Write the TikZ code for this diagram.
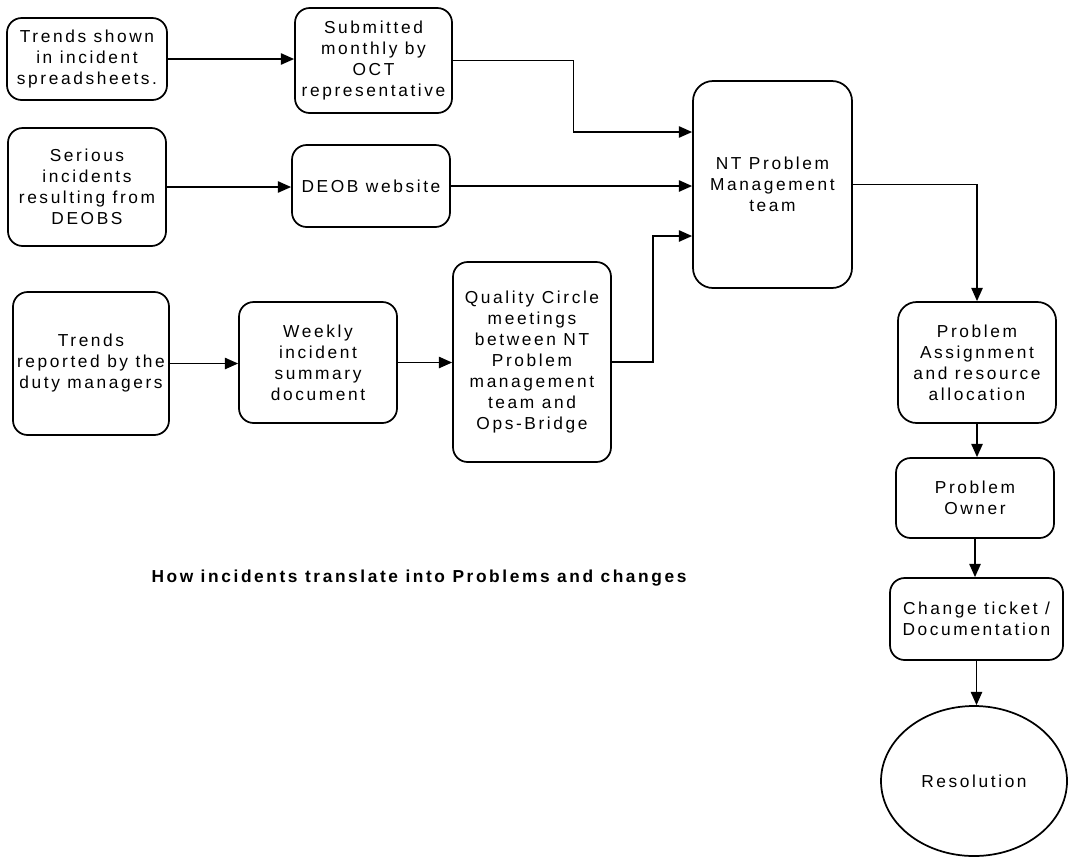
\documentclass[tikz,border=0pt]{standalone}
\usepackage{fontspec}
\setmainfont{Liberation Sans}[LetterSpace=15]
\usetikzlibrary{arrows.meta,shapes.geometric}
\tikzset{
  box/.style={draw, line width=1.3pt, rounded corners=11pt, align=center, inner sep=0pt,
    font=\fontsize{13pt}{15.75pt}\selectfont},
  oval/.style={draw, line width=1.3pt, ellipse, align=center, inner sep=0pt,
    font=\fontsize{13pt}{15.75pt}\selectfont},
  arr/.style={line width=1.3pt, -{Triangle[length=10pt,width=8.5pt]}},
  caption/.style={font=\fontsize{13pt}{15.75pt}\selectfont\bfseries, inner sep=0pt}
}
\begin{document}
\begin{tikzpicture}[x=0.75pt,y=-0.75pt]
\useasboundingbox (0,0) rectangle (1069,858);
% left column
\node[box, minimum width=120pt, minimum height=61.5pt] (b1) at (87,59)
  {Trends shown\\in incident\\spreadsheets.};
\node[box, minimum width=117.75pt, minimum height=78.75pt] (b2) at (373.5,60.5)
  {Submitted\\monthly by\\OCT\\representative};
\node[box, minimum width=118.5pt, minimum height=88.5pt] (b3) at (87,187)
  {Serious\\incidents\\resulting from\\DEOBS};
\node[box, minimum width=118.5pt, minimum height=61.5pt] (b4) at (371,186)
  {DEOB website};
\node[box, minimum width=117pt, minimum height=107.25pt] (b5) at (91,363.5)
  {Trends\\reported by the\\duty managers};
\node[box, minimum width=118.5pt, minimum height=90.75pt] (b6) at (318,362.5)
  {Weekly\\incident\\summary\\document};
\node[box, minimum width=118.5pt, minimum height=150pt] (b7) at (532,362)
  {Quality Circle\\meetings\\between NT\\Problem\\management\\team and\\Ops-Bridge};
% centre
\node[box, rounded corners=15pt, minimum width=119.25pt, minimum height=155.25pt] (nt) at (772.5,184.5)
  {NT Problem\\Management\\team};
% right column
\node[box, rounded corners=14pt, minimum width=118.5pt, minimum height=90.75pt] (pa) at (977,362.5)
  {Problem\\Assignment\\and resource\\allocation};
\node[box, minimum width=118.5pt, minimum height=60pt] (po) at (975,498)
  {Problem\\Owner};
\node[box, minimum width=129.75pt, minimum height=61.5pt] (ct) at (976.5,619)
  {Change ticket /\\Documentation};
\node[oval, minimum width=139.5pt, minimum height=112.5pt] (res) at (974,781)
  {Resolution};
\node[caption] (cap) at (419,578) {How incidents translate into Problems and changes};
% connectors
\draw[arr] (b1.east) -- (b1.east -| b2.west);
\draw[arr] (b2.east) -- ++(120.5,0) |- (nt.west |- 0,132);
\draw[arr] (b3.east) -- (b3.east -| b4.west);
\draw[arr] (b4.east) -- (b4.east -| nt.west);
\draw[arr] (b5.east) -- (b5.east -| b6.west);
\draw[arr] (b6.east) -- (b6.east -| b7.west);
\draw[arr] (b7.east) -- ++(41,0) |- (nt.west |- 0,236);
\draw[arr] (nt.east) -| (pa.north);
\draw[arr] (pa.south) -- (pa.south |- po.north);
\draw[arr] (po.south) -- (po.south |- ct.north);
\draw[arr] (ct.south) -- (ct.south |- res.north);
\end{tikzpicture}
\end{document}
